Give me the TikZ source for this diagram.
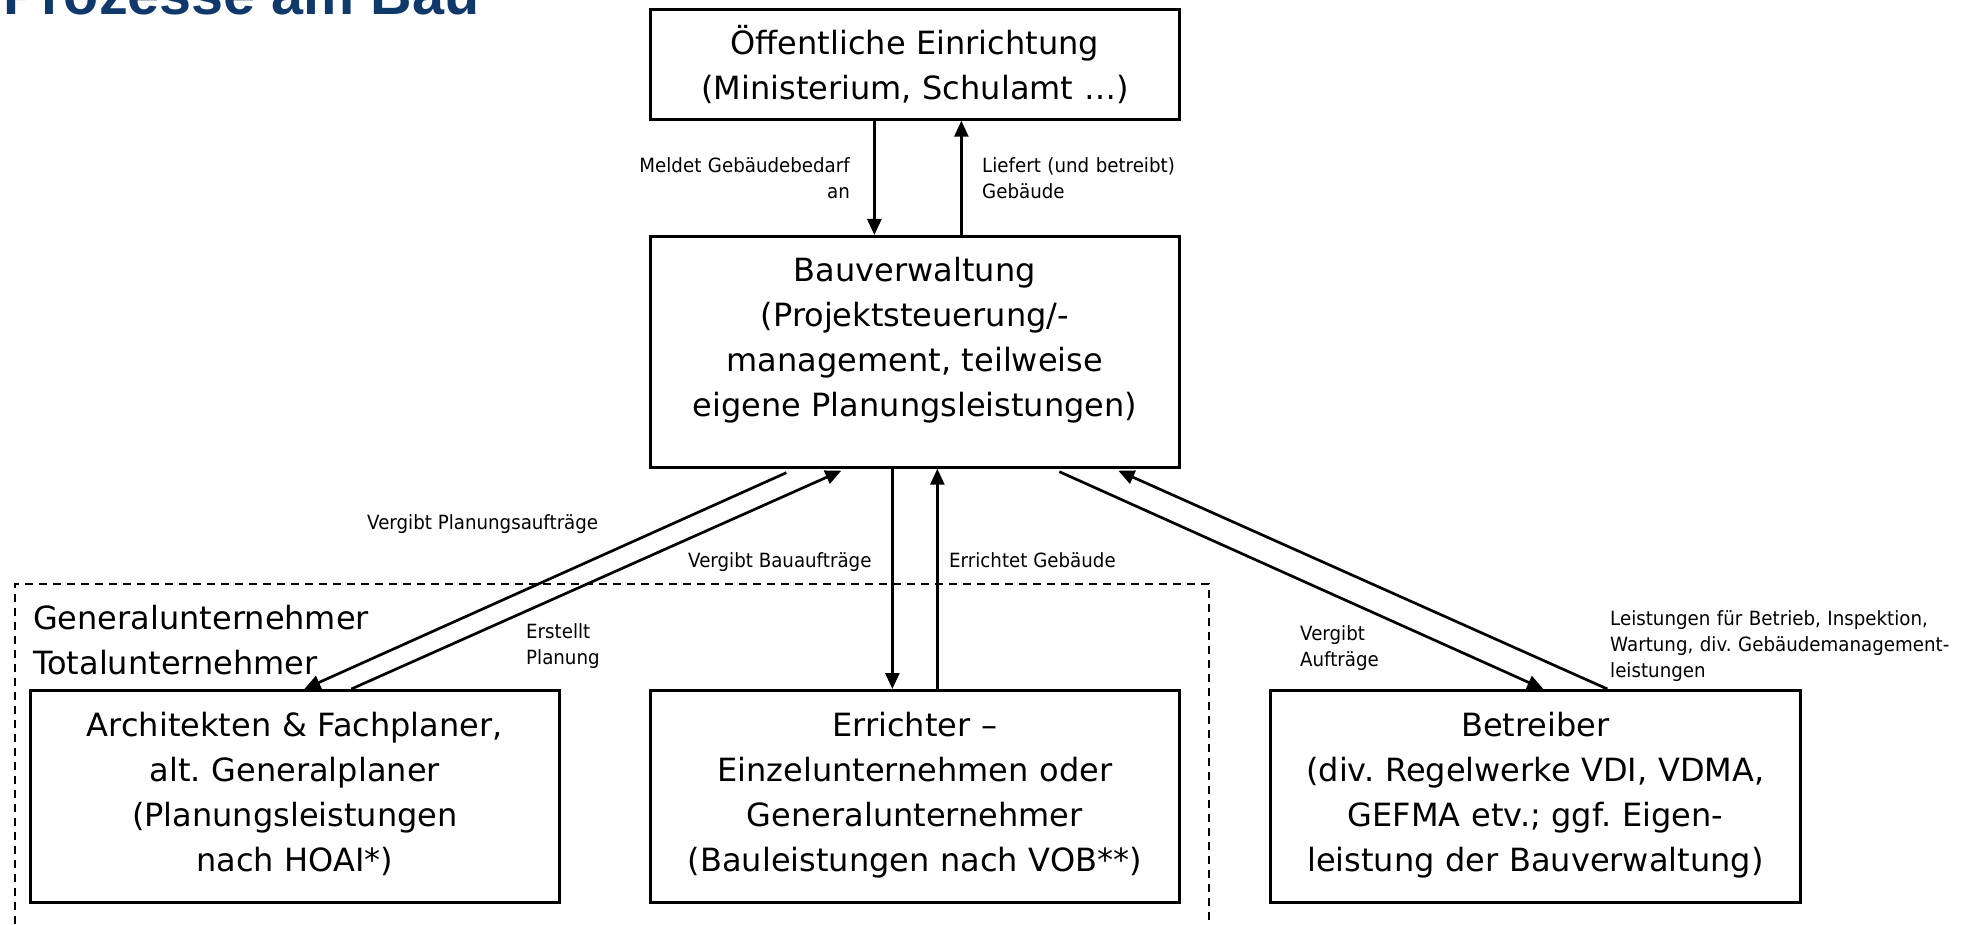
\documentclass[tikz,border=0pt]{standalone}
\usepackage{fontspec}
\setmainfont{DejaVu Sans}
\newfontfamily\lblfam[FakeStretch=0.93]{DejaVu Sans}
\newfontfamily\titlefam{Liberation Sans}
\usetikzlibrary{arrows.meta}
\definecolor{titleblue}{RGB}{16,57,107}
\newcommand\boxfont{\frenchspacing\fontsize{32pt}{45pt}\selectfont}
\newcommand\lblfont{\frenchspacing\lblfam\fontsize{19.6pt}{26pt}\selectfont}
\frenchspacing
\begin{document}
\begin{tikzpicture}[x=1pt,y=-1pt,
  box/.style={draw, line width=2.7pt, minimum width=529pt, inner sep=0pt, anchor=north west},
  boxtext/.style={font=\boxfont, align=center, text width=520pt, inner sep=0pt, anchor=base},
  lbl/.style={font=\lblfont, inner sep=0pt},
  arr/.style={line width=2.7pt, -{Triangle[length=16pt,width=14pt]}},
  frame/.style={draw, line width=2pt, dash pattern=on 8pt off 6pt, inner sep=0pt, anchor=north west},
  titlestyle/.style={font=\titlefam\bfseries\fontsize{57.5pt}{60pt}\selectfont, text=titleblue, inner sep=0pt, anchor=base west}
]
\useasboundingbox (0,0) rectangle (1982,925);

% title
\node[titlestyle] (title) at (3,15) {Prozesse am Bau};

% dashed frame
\node[frame, minimum width=1194pt, minimum height=360pt] (gu) at (14,583) {};
\node[font=\boxfont, align=left, text width=400pt, inner sep=0pt, anchor=base west] (gutext) at (33,629) {Generalunternehmer\\Totalunternehmer};

% boxes
\node[box, minimum height=110pt] (top) at (649,8) {};
\node[box, minimum height=231pt] (bauv) at (649,235) {};
\node[box, minimum height=212pt] (arch) at (29,689) {};
\node[box, minimum height=212pt] (err) at (649,689) {};
\node[box, minimum height=212pt, minimum width=530pt] (betr) at (1269,689) {};

\node[boxtext] (toptext) at ([yshift=-47pt]top.north) {Öffentliche Einrichtung\\(Ministerium, Schulamt …)};
\node[boxtext] (bauvtext) at ([yshift=-47pt]bauv.north) {Bauverwaltung\\(Projektsteuerung/-\\management, teilweise\\eigene Planungsleistungen)};
\node[boxtext] (archtext) at ([yshift=-47pt]arch.north) {Architekten \& Fachplaner,\\alt. Generalplaner\\(Planungsleistungen\\nach HOAI*)};
\node[boxtext] (errtext) at ([yshift=-47pt]err.north) {Errichter –\\Einzelunternehmen oder\\Generalunternehmer\\(Bauleistungen nach VOB**)};
\node[boxtext] (betrtext) at ([yshift=-47pt]betr.north) {Betreiber\\(div. Regelwerke VDI, VDMA,\\GEFMA etv.; ggf. Eigen-\\leistung der Bauverwaltung)};

% connectors
\draw[arr] ([xshift=-40.5pt]top.south) -- ([xshift=-40.5pt]bauv.north);
\draw[arr] ([xshift=46.5pt]bauv.north) -- ([xshift=46.5pt]top.south);
\draw[arr] ([xshift=-22.5pt]bauv.south) -- ([xshift=-22.5pt]err.north);
\draw[arr] ([xshift=22.5pt]err.north) -- ([xshift=22.5pt]bauv.south);
\draw[arr] ([xshift=-128.5pt,yshift=-4pt]bauv.south) -- ([xshift=9.5pt]arch.north);
\draw[arr] ([xshift=56.5pt]arch.north) -- ([xshift=-73.5pt,yshift=-2pt]bauv.south);
\draw[arr] ([xshift=144.5pt,yshift=-3pt]bauv.south) -- ([xshift=8pt]betr.north);
\draw[arr] ([xshift=72pt]betr.north) -- ([xshift=203.5pt,yshift=-2pt]bauv.south);

% labels
\node[lbl, align=right, text width=240pt, anchor=base east] (l1) at (850,173) {Meldet Gebäudebedarf\\an};
\node[lbl, align=left, text width=240pt, anchor=base west] (l2) at (982,173) {Liefert (und betreibt)\\Gebäude};
\node[lbl, anchor=base west] (l3) at (367,529) {Vergibt Planungsaufträge};
\node[lbl, align=left, text width=150pt, anchor=base west] (l4) at (526,638) {Erstellt\\Planung};
\node[lbl, anchor=base west] (l5) at (688,567) {Vergibt Bauaufträge};
\node[lbl, anchor=base west] (l6) at (949,567) {Errichtet Gebäude};
\node[lbl, align=left, text width=150pt, anchor=base west] (l7) at (1300,640) {Vergibt\\Aufträge};
\node[lbl, align=left, text width=362pt, anchor=base west] (l8) at (1610,625) {Leistungen für Betrieb, Inspektion,\\Wartung, div. Gebäudemanagement-\\leistungen};
\end{tikzpicture}
\end{document}
